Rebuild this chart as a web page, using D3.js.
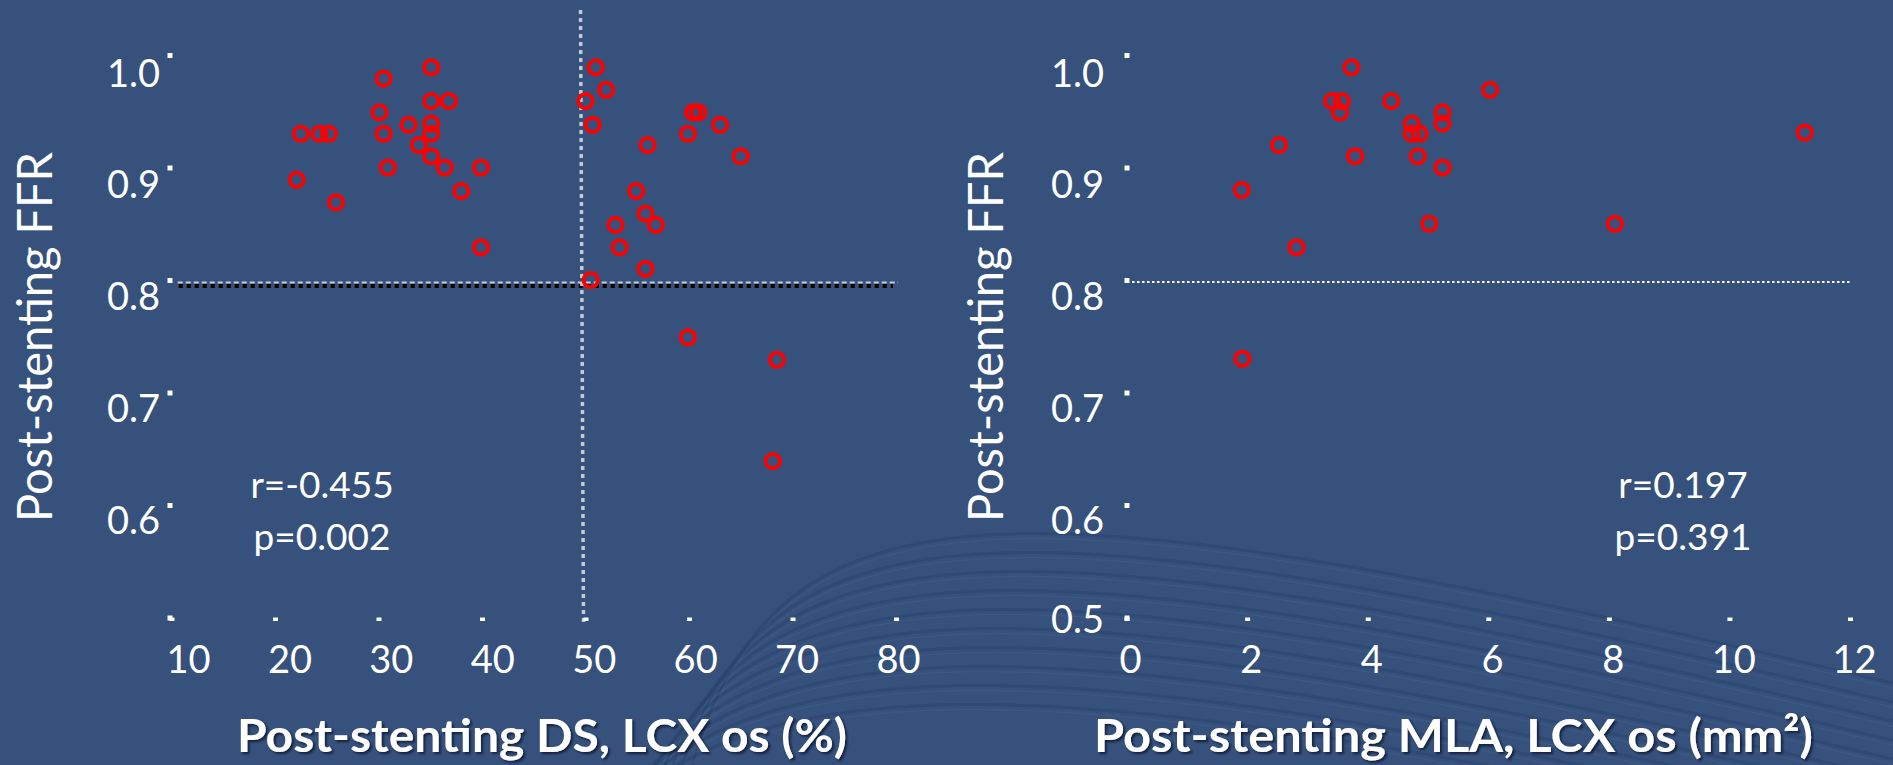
<!DOCTYPE html>
<html><head><meta charset="utf-8">
<script src="https://cdn.jsdelivr.net/npm/d3@7"></script>
<style>html,body{margin:0;padding:0;background:#35517c;overflow:hidden}</style>
</head><body><svg id="c" width="1893" height="765"></svg>
<script>
// ---- data ----
const dsValues = [22.5,24.3,25.2,22.1,25.9,30.5,30.1,30.5,30.9,32.9,35.1,35.1,36.8,35.1,35.1,33.9,35.1,36.4,39.9,38.0,39.9,
                  51.0,52.0,50.0,50.7,56.0,60.4,60.9,59.9,63.0,65.0,54.9,55.8,56.8,52.9,53.3,55.8,50.5,59.9,68.5,68.1];
const dsFFR    = [0.930,0.930,0.930,0.889,0.869,0.979,0.949,0.930,0.900,0.938,0.989,0.959,0.959,0.939,0.930,0.920,0.910,0.900,0.900,0.879,0.829,
                  0.989,0.969,0.959,0.938,0.920,0.949,0.949,0.930,0.938,0.910,0.879,0.859,0.849,0.849,0.829,0.810,0.800,0.749,0.729,0.639];
const mlaValues = [3.73,3.41,3.57,3.54,4.39,6.03,2.53,1.91,3.79,4.73,4.73,4.86,5.24,5.24,4.83,5.24,5.02,2.82,8.10,11.25,1.92];
const mlaFFR    = [0.989,0.959,0.959,0.949,0.959,0.969,0.920,0.880,0.910,0.939,0.930,0.930,0.949,0.939,0.910,0.900,0.850,0.829,0.850,0.931,0.730];
const dsTicks  = [10,20,30,40,50,60,70,80];
const mlaTicks = [0,2,4,6,8,10,12];
const ffrTicks = [0.5,0.6,0.7,0.8,0.9,1.0];
const ffrCutoff = 0.8;
const dsCutoff = 50;
const statsLeft  = ["r=-0.455","p=0.002"];
const statsRight = ["r=0.197","p=0.391"];
const yTitle = "Post-stenting FFR";
const xTitleLeft = "Post-stenting DS, LCX os (%)";
const xTitleRight = "Post-stenting MLA, LCX os (mm²)";

// ---- setup ----
const svg = d3.select("#c");
const defs = svg.append("defs");
const f = defs.append("filter").attr("id","sh").attr("x","-5%").attr("y","-30%").attr("width","110%").attr("height","160%");
f.append("feDropShadow").attr("dx",2).attr("dy",2).attr("stdDeviation",1.2).attr("flood-color","#0b1630").attr("flood-opacity",0.85);

svg.append("rect").attr("width",1893).attr("height",765).attr("fill","#35517c");

// decorative background arcs
const arcs = svg.append("g");
d3.range(10).forEach(i => {
  const dy = i*19, dx = i*16;
  const p = d3.path();
  p.moveTo(690 - dx, 775 + dy);
  p.bezierCurveTo(770 - dx, 470 + dy, 1000, 470 + dy, 1900, 685 + dy);
  arcs.append("path").attr("d", p.toString()).attr("fill","none")
    .attr("stroke","#243e68").attr("stroke-width",3).attr("opacity",0.35);
  const q = d3.path();
  q.moveTo(690 - dx, 780 + dy);
  q.bezierCurveTo(770 - dx, 475 + dy, 1000, 475 + dy, 1900, 690 + dy);
  arcs.append("path").attr("d", q.toString()).attr("fill","none")
    .attr("stroke","#5675a3").attr("stroke-width",1.5).attr("opacity",0.18);
});

const font = "Lato, 'Open Sans', sans-serif";
const y = d3.scaleLinear().domain([0.5,1.0]).range([617.5,55]);
const yLab = d3.scaleLinear().domain([0.5,0.6,1.0]).range([632,533,86]);

function panel(opts){
  const {x, xLab, xt, yAxisX, labelEnd, showBottomLabel, xs, ys, stats, statX, titleX, titleLen, yTitleX, xTitle} = opts;
  const g = svg.append("g");
  // y axis
  const ya = d3.axisLeft(y).tickValues(ffrTicks).tickSize(0).tickPadding(0)
     .tickFormat(d => (d===0.5 && !showBottomLabel) ? "" : d3.format(".1f")(d));
  const yg = g.append("g").attr("transform",`translate(${yAxisX},0)`).call(ya);
  yg.select(".domain").remove();
  yg.selectAll(".tick line").attr("x1",-2.5).attr("x2",2.5).attr("stroke","#ffffff").attr("stroke-width",5);
  yg.selectAll(".tick text").attr("x", labelEnd - yAxisX).attr("dy",0)
     .attr("y", d => yLab(d) - y(d)).attr("text-anchor","end")
     .attr("fill","#ffffff").style("font-family",font).style("font-size","38px");
  // x axis
  const xa = d3.axisBottom(x).tickValues(xt).tickSize(0).tickPadding(0).tickFormat(d3.format("d"));
  const xg = g.append("g").attr("transform",`translate(0,619)`).call(xa);
  xg.select(".domain").remove();
  xg.selectAll(".tick line").attr("y1",-1.5).attr("y2",2).attr("stroke","#ffffff").attr("stroke-width",5);
  xg.selectAll(".tick text").attr("y",54).attr("dy",0).attr("x", d => xLab(d) - x(d))
     .attr("fill","#ffffff").style("font-family",font).style("font-size","38px");
  // points
  g.append("g").selectAll("circle").data(xs.map((v,i)=>[v, ys[i]])).join("circle")
    .attr("cx", d => x(d[0])).attr("cy", d => y(d[1])).attr("r",7.2)
    .attr("fill","none").attr("stroke","#ff0000").attr("stroke-width",3.8);
  // stats
  g.append("g").selectAll("text").data(stats).join("text")
    .attr("x", statX).attr("y",(d,i)=>498 + i*52).attr("text-anchor","middle")
    .attr("fill","#ffffff").style("font-family",font).style("font-size","37px").text(d=>d);
  // y title
  g.append("text").attr("transform",`translate(${yTitleX},337) rotate(-90)`)
    .attr("text-anchor","middle").attr("fill","#ffffff")
    .attr("textLength",370).attr("lengthAdjust","spacingAndGlyphs")
    .style("font-family",font).style("font-size","48px").text(yTitle);
  // x title
  g.append("text").attr("x",titleX).attr("y",752).attr("fill","#ffffff")
    .attr("textLength",titleLen).attr("lengthAdjust","spacingAndGlyphs")
    .attr("filter","url(#sh)")
    .style("font-family",font).style("font-weight","bold").style("font-size","46px").text(xTitle);
  return g;
}

// left panel
const xL = d3.scaleLinear().domain([10,80]).range([171.5,896]);
const xLLab = d3.scaleLinear().domain([10,80]).range([188,898]);
const gL = panel({x:xL, xLab:xLLab, xt:dsTicks, yAxisX:170, labelEnd:160, showBottomLabel:false,
  xs:dsValues, ys:dsFFR, stats:statsLeft, statX:322, titleX:237, titleLen:610, yTitleX:52, xTitle:xTitleLeft});
// reference lines (left)
gL.insert("line",":first-child").attr("x1",xL(dsCutoff)-5).attr("x2",xL(dsCutoff)-2)
  .attr("y1",y(1.04)).attr("y2",y(0.496)).attr("stroke","#c6cbd3").attr("stroke-width",3.5).attr("stroke-dasharray","4,4");
gL.insert("line",":first-child").attr("x1",xL(10.6)).attr("x2",xL(80.2))
  .attr("y1",y(ffrCutoff)+2.5).attr("y2",y(ffrCutoff)+2.5).attr("stroke","#c6cbd3").attr("stroke-width",2).attr("stroke-dasharray","5,3");
gL.insert("line",":first-child").attr("x1",xL(10.7)).attr("x2",xL(79.7))
  .attr("y1",y(ffrCutoff)+6).attr("y2",y(ffrCutoff)+6).attr("stroke","#000000").attr("stroke-width",4).attr("stroke-dasharray","4,4");

// right panel
const xR = d3.scaleLinear().domain([0,12]).range([1126.6,1850]);
const xRLab = d3.scaleLinear().domain([0,12]).range([1130,1854]);
const gR = panel({x:xR, xLab:xRLab, xt:mlaTicks, yAxisX:1127, labelEnd:1104, showBottomLabel:true,
  xs:mlaValues, ys:mlaFFR, stats:statsRight, statX:1683, titleX:1094, titleLen:719, yTitleX:1003, xTitle:xTitleRight});
gR.insert("line",":first-child").attr("x1",xR(0.09)).attr("x2",xR(12.03))
  .attr("y1",y(ffrCutoff)+2).attr("y2",y(ffrCutoff)+2).attr("stroke","#ffffff").attr("stroke-width",2).attr("stroke-dasharray","2.5,2.5");
</script>
</body></html>
